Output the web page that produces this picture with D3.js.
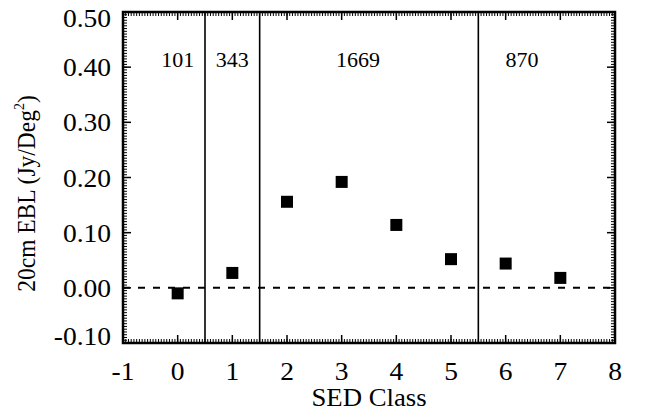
<!DOCTYPE html>
<html>
<head>
<meta charset="utf-8">
<script src="https://cdn.jsdelivr.net/npm/d3@7"></script>
<style>
  html, body { margin: 0; padding: 0; background: #fff; }
  svg { display: block; }
</style>
</head>
<body>
<div id="chart"></div>
<script>
// SED classes and the 20cm extragalactic background light per class
const sedClass = [0, 1, 2, 3, 4, 5, 6, 7];
const eblValues = [-0.010, 0.027, 0.156, 0.192, 0.114, 0.052, 0.044, 0.018];

// Vertical separators between source groups and the source counts per group
const groupBounds = [0.5, 1.5, 5.5];
const groupCounts = ["101", "343", "1669", "870"];
const groupLabelX = [0, 1, 3.3, 6.3];
const groupLabelY = 0.40;

// Axis ticks
const xTicks = [-1, 0, 1, 2, 3, 4, 5, 6, 7, 8];
const xTickLabels = ["-1", "0", "1", "2", "3", "4", "5", "6", "7", "8"];
const yTicks = [-0.10, 0.00, 0.10, 0.20, 0.30, 0.40, 0.50];
const yTickLabels = ["-0.10", "0.00", "0.10", "0.20", "0.30", "0.40", "0.50"];

const FONT = "'Liberation Serif', 'Times New Roman', Times, serif";
const STRETCH = 1.1;   // slightly wide PostScript-style lettering

const W = 646, H = 411;
const margin = { left: 123, right: 31, top: 12, bottom: 68 };
const x0 = margin.left, x1 = W - margin.right;
const y0 = H - margin.bottom, y1 = margin.top;

const x = d3.scaleLinear().domain([-1, 8]).range([x0, x1]);
const y = d3.scaleLinear().domain([-0.1, 0.5]).range([y0, y1]);

const svg = d3.select("#chart").append("svg")
  .attr("width", W).attr("height", H)
  .attr("font-family", FONT);

// Minor ticks: 20 intervals between major ticks
const xMinor = d3.range(-1, 8.0001, 0.05);
const yMinor = d3.range(-0.1, 0.50001, 0.005);

const ticks = svg.append("g").attr("stroke", "#000");
// bottom and top
ticks.selectAll(".xm").data(xMinor).join("line")
  .attr("x1", d => x(d)).attr("x2", d => x(d))
  .attr("y1", y0).attr("y2", y0 - 4).attr("stroke-width", 1);
ticks.selectAll(".xmt").data(xMinor).join("line")
  .attr("x1", d => x(d)).attr("x2", d => x(d))
  .attr("y1", y1).attr("y2", y1 + 4).attr("stroke-width", 1);
ticks.selectAll(".xM").data(xTicks).join("line")
  .attr("x1", d => x(d)).attr("x2", d => x(d))
  .attr("y1", y0).attr("y2", y0 - 8).attr("stroke-width", 1.5);
ticks.selectAll(".xMt").data(xTicks).join("line")
  .attr("x1", d => x(d)).attr("x2", d => x(d))
  .attr("y1", y1).attr("y2", y1 + 8).attr("stroke-width", 1.5);
// left and right
ticks.selectAll(".ym").data(yMinor).join("line")
  .attr("y1", d => y(d)).attr("y2", d => y(d))
  .attr("x1", x0).attr("x2", x0 + 4).attr("stroke-width", 1);
ticks.selectAll(".ymr").data(yMinor).join("line")
  .attr("y1", d => y(d)).attr("y2", d => y(d))
  .attr("x1", x1).attr("x2", x1 - 4).attr("stroke-width", 1);
ticks.selectAll(".yM").data(yTicks).join("line")
  .attr("y1", d => y(d)).attr("y2", d => y(d))
  .attr("x1", x0).attr("x2", x0 + 8).attr("stroke-width", 1.5);
ticks.selectAll(".yMr").data(yTicks).join("line")
  .attr("y1", d => y(d)).attr("y2", d => y(d))
  .attr("x1", x1).attr("x2", x1 - 8).attr("stroke-width", 1.5);

// Plot frame
svg.append("rect")
  .attr("x", x0).attr("y", y1)
  .attr("width", x1 - x0).attr("height", y0 - y1)
  .attr("fill", "none").attr("stroke", "#000").attr("stroke-width", 2.5);

// Zero line
svg.append("line")
  .attr("x1", x0).attr("x2", x1)
  .attr("y1", y(0)).attr("y2", y(0))
  .attr("stroke", "#000").attr("stroke-width", 2)
  .attr("stroke-dasharray", "7,8");

// Group separators
svg.selectAll(".sep").data(groupBounds).join("line")
  .attr("x1", d => x(d)).attr("x2", d => x(d))
  .attr("y1", y0).attr("y2", y1)
  .attr("stroke", "#000").attr("stroke-width", 1.6);

// Group counts
svg.selectAll(".cnt").data(groupCounts).join("text")
  .attr("x", (d, i) => x(groupLabelX[i]))
  .attr("y", y(groupLabelY))
  .attr("text-anchor", "middle")
  .attr("font-size", 22)
  .text(d => d);

// Data points
const sz = 12;
svg.selectAll(".pt").data(sedClass).join("rect")
  .attr("x", d => x(d) - sz / 2)
  .attr("y", (d, i) => y(eblValues[i]) - sz / 2)
  .attr("width", sz).attr("height", sz)
  .attr("fill", "#000");

// Tick labels (kept inside the vertical span of the frame labels)
svg.selectAll(".xl").data(xTicks).join("text")
  .attr("transform", d => `translate(${x(d)},${y0 + 37}) scale(${STRETCH},1)`)
  .attr("text-anchor", "middle").attr("font-size", 25)
  .text((d, i) => xTickLabels[i]);
svg.selectAll(".yl").data(yTicks).join("text")
  .attr("transform", d => {
    const by = Math.min(Math.max(y(d) + 9, y1 + 15), y0 + 2);
    return `translate(${x0 - 12},${by}) scale(${STRETCH},1)`;
  })
  .attr("text-anchor", "end").attr("font-size", 25)
  .text((d, i) => yTickLabels[i]);

// Axis titles
svg.append("text")
  .attr("transform", `translate(${(x0 + x1) / 2},406) scale(1.07,1)`)
  .attr("text-anchor", "middle").attr("font-size", 25)
  .text("SED Class");

const yt = svg.append("text")
  .attr("transform", `translate(35,${(y0 + y1) / 2 + 16}) rotate(-90) scale(1,1.08)`)
  .attr("text-anchor", "middle").attr("font-size", 23.5);
yt.append("tspan").text("20cm EBL (Jy/Deg");
yt.append("tspan").attr("font-size", 14).attr("dy", -10).text("2");
yt.append("tspan").attr("dy", 10).text(")");
</script>
</body>
</html>
